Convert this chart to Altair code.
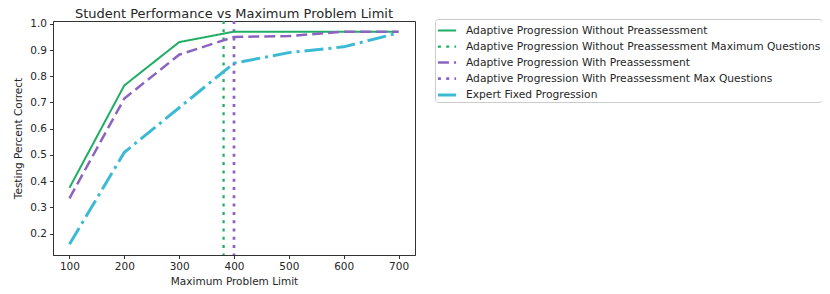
import altair as alt
import pandas as pd

limits = [100, 200, 300, 400, 500, 600, 700]
without_pre = [0.375, 0.765, 0.930, 0.970, 0.970, 0.970, 0.970]
with_pre = [0.335, 0.715, 0.882, 0.950, 0.953, 0.970, 0.970]
expert = [0.160, 0.510, 0.680, 0.850, 0.890, 0.912, 0.965]
max_without = 381
max_with = 400

names = [
    "Adaptive Progression Without Preassessment",
    "Adaptive Progression Without Preassessment Maximum Questions",
    "Adaptive Progression With Preassessment",
    "Adaptive Progression With Preassessment Max Questions",
    "Expert Fixed Progression",
]
colors = ["#1fae64", "#1fae64", "#8b64c0", "#8b64c0", "#3cbad4"]
dashes = [[1, 0], [3, 5.3], [11, 5], [3, 5.3], [19, 5, 3, 5]]
widths = [2, 3, 3.5, 3, 3.5]

rows = []
for name, vals in [(names[0], without_pre), (names[2], with_pre), (names[4], expert)]:
    for x, y in zip(limits, vals):
        rows.append({"series": name, "limit": x, "score": y})
lines_df = pd.DataFrame(rows)
rules_df = pd.DataFrame({"series": [names[1], names[3]], "limit": [max_without, max_with]})

font = "DejaVu Sans"
xscale = alt.Scale(domain=[70, 730], nice=False, zero=False)
yscale = alt.Scale(domain=[0.119, 1.0105], nice=False, zero=False)

color = alt.Color("series:N", scale=alt.Scale(domain=names, range=colors),
                  legend=alt.Legend(title=None, orient="none", legendX=382, legendY=-2,
                                    symbolType="stroke", symbolSize=330,
                                    labelFont=font, labelFontSize=10.7, labelColor="#262626",
                                    labelLimit=500, rowPadding=0, labelOffset=8,
                                    padding=1, strokeColor="#cccccc", cornerRadius=3,
                                    fillColor="white"))
dash = alt.StrokeDash("series:N", scale=alt.Scale(domain=names, range=dashes), legend=None)
width = alt.StrokeWidth("series:N", scale=alt.Scale(domain=names, range=widths), legend=None)

xaxis = alt.X("limit:Q", scale=xscale, title="Maximum Problem Limit",
              axis=alt.Axis(values=limits, grid=False, tickSize=3.5, labelPadding=3,
                            format="d"))
yaxis = alt.Y("score:Q", scale=yscale, title="Testing Percent Correct",
              axis=alt.Axis(values=[0.2, 0.3, 0.4, 0.5, 0.6, 0.7, 0.8, 0.9, 1.0],
                            format=".1f", grid=False, tickSize=3.5, labelPadding=3))

lines = alt.Chart(lines_df).mark_line(strokeCap="butt", clip=True).encode(
    x=xaxis, y=yaxis, color=color, strokeDash=dash, strokeWidth=width,
    order="limit:Q")

rules = alt.Chart(rules_df).mark_rule(strokeCap="butt").encode(
    x=alt.X("limit:Q", scale=xscale), color=color, strokeDash=dash, strokeWidth=width)

chart = alt.layer(rules, lines).properties(
    width=362, height=234,
    title=alt.Title("Student Performance vs Maximum Problem Limit", font=font,
                    fontSize=13, fontWeight="normal", color="#262626", offset=1, dy=3),
    autosize=alt.AutoSizeParams(type="none"),
    padding={"left": 45, "top": 13, "right": 407, "bottom": 31},
).configure_view(stroke="#333333", strokeWidth=1).configure_axis(
    labelFont=font, titleFont=font, labelFontSize=10.5, titleFontSize=10.5,
    labelColor="#262626", titleColor="#262626", titleFontWeight="normal",
    domainColor="#333333", tickColor="#333333", domain=True,
).configure_axisY(titlePadding=6).configure_axisX(titlePadding=4)

chart.save("out.html", embed_options={"renderer": "svg", "actions": False})
